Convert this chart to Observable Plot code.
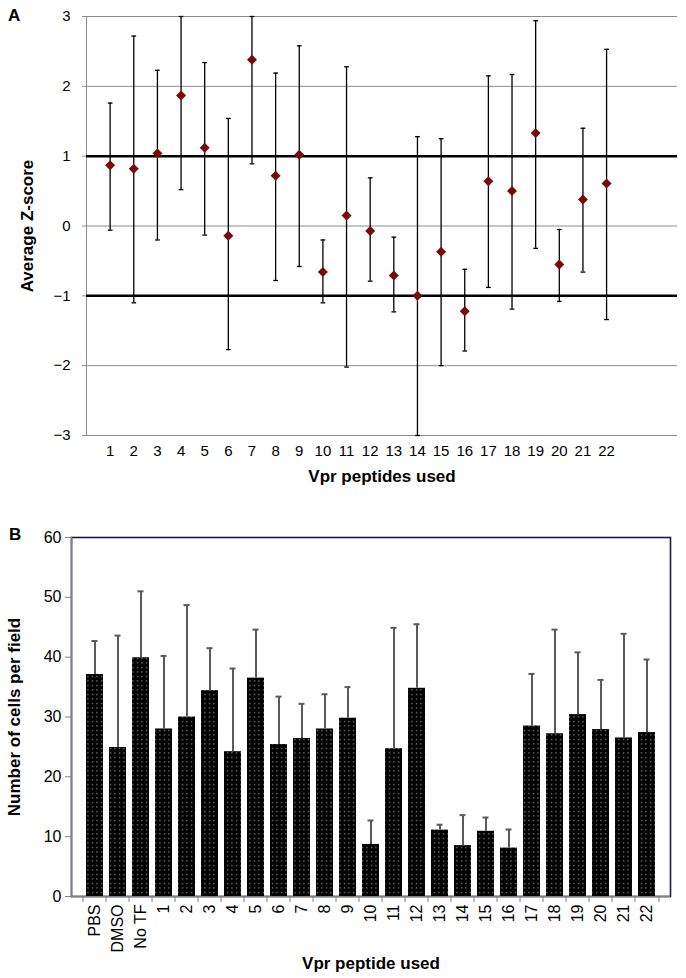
<!DOCTYPE html>
<html><head><meta charset="utf-8">
<script src="https://cdn.jsdelivr.net/npm/d3@7"></script>
<script src="https://cdn.jsdelivr.net/npm/@observablehq/plot@0.6"></script>
<style>
body{margin:0;background:#fff;font-family:"Liberation Sans",Arial,sans-serif;}
#wrap{position:relative;width:686px;height:978px;overflow:hidden;}
.panel{position:absolute;font-weight:bold;font-size:17px;line-height:20px;color:#000;}
svg{display:block}
</style></head><body>
<div id="wrap">
<div id="a"></div>
<div id="b"></div>
<div class="panel" style="top:6px;left:8px">A</div>
<div class="panel" style="top:525px;left:9px">B</div>
</div>
<script>
// Panel A: average Z-score per Vpr peptide
const peptides = [1,2,3,4,5,6,7,8,9,10,11,12,13,14,15,16,17,18,19,20,21,22];
const zMean  = [0.87,0.82,1.04,1.87,1.12,-0.14,2.38,0.72,1.02,-0.66,0.15,-0.07,-0.71,-1.00,-0.37,-1.22,0.64,0.50,1.33,-0.55,0.38,0.61];
const zUpper = [1.76,2.72,2.23,3.00,2.34,1.54,3.00,2.19,2.58,-0.20,2.28,0.69,-0.16,1.28,1.25,-0.62,2.15,2.17,2.94,-0.05,1.40,2.53];
const zLower = [-0.06,-1.10,-0.20,0.52,-0.13,-1.77,0.89,-0.78,-0.58,-1.10,-2.02,-0.79,-1.23,-3.00,-2.00,-1.79,-0.88,-1.19,-0.32,-1.08,-0.66,-1.34];
const zTicks = [-3,-2,-1,0,1,2,3];
const zThresholds = [1,-1];

// Panel B: number of cells per field
const cellCategories = ["PBS","DMSO","No TF","1","2","3","4","5","6","7","8","9","10","11","12","13","14","15","16","17","18","19","20","21","22"];
const cellValues = [37.1,24.9,39.9,28.0,30.0,34.4,24.2,36.5,25.4,26.4,28.0,29.8,8.7,24.7,34.8,11.1,8.5,10.9,8.1,28.5,27.2,30.4,27.9,26.5,27.4];
const cellUpper  = [42.7,43.6,51.0,40.2,48.7,41.5,38.1,44.6,33.4,32.2,33.8,35.0,12.7,44.9,45.5,12.0,13.6,13.2,11.2,37.2,44.6,40.8,36.2,43.9,39.6];
const cellTicks = [0,10,20,30,40,50,60];

const font = "'Liberation Sans', Arial, Helvetica, sans-serif";
const intFmt = d => d < 0 ? "\u2212" + (-d) : String(d);

const aData = peptides.map((p,i)=>({p, mean:zMean[i], hi:zUpper[i], lo:zLower[i]}));
const chartA = Plot.plot({
  width:686, height:485, marginLeft:86, marginRight:9, marginTop:16, marginBottom:50,
  style:{fontFamily:font, fontSize:"15px", color:"#000", background:"#fff", overflow:"visible"},
  x:{domain:[0,25]},
  y:{domain:[-3,3]},
  marks:[
    Plot.gridY(zTicks, {stroke:"#8c8c8c", strokeOpacity:1, strokeWidth:1}),
    Plot.ruleX([0], {stroke:"#8c8c8c", strokeWidth:1}),
    Plot.ruleY(zThresholds, {stroke:"#000", strokeWidth:2.5}),
    Plot.ruleX(aData, {x:"p", y1:"lo", y2:"hi", stroke:"#000", strokeWidth:1.3}),
    Plot.link(aData, {x1:d=>d.p-0.1, x2:d=>d.p+0.1, y1:"hi", y2:"hi", stroke:"#000", strokeWidth:1.3}),
    Plot.link(aData, {x1:d=>d.p-0.1, x2:d=>d.p+0.1, y1:"lo", y2:"lo", stroke:"#000", strokeWidth:1.3}),
    Plot.dot(aData, {x:"p", y:"mean", symbol:"diamond2", r:4.5, fill:"#7a0a0a", stroke:"none"}),
    Plot.axisY({ticks:zTicks, tickFormat:intFmt, tickSize:4, tickPadding:12, stroke:"#8c8c8c", label:"Average Z-score", labelAnchor:"center", labelOffset:66, labelArrow:"none"}),
    Plot.axisX({ticks:peptides, tickSize:0, tickPadding:10, label:"Vpr peptides used", labelAnchor:"center", labelOffset:46, labelArrow:"none"})
  ]
});

const bData = cellCategories.map((c,i)=>({c, v:cellValues[i], hi:cellUpper[i]}));
const half = 599/25/2;
const chartB = Plot.plot({
  width:686, height:493, marginLeft:71, marginRight:16, marginTop:52, marginBottom:82,
  style:{fontFamily:font, fontSize:"16px", color:"#000", background:"#fff", overflow:"visible"},
  x:{domain:cellCategories, paddingInner:0.25, paddingOuter:0.125},
  y:{domain:[0,60]},
  marks:[
    Plot.frame({stroke:"#1b1b4d", strokeWidth:1.6}),
    Plot.frame({anchor:"left", stroke:"#808080", strokeWidth:1.6}),
    Plot.ruleY([0], {stroke:"#808080", strokeWidth:1.6}),
    Plot.barY(bData, {x:"c", y:"v", fill:"url(#dots)"}),
    Plot.ruleX(bData, {x:"c", y1:"v", y2:"hi", stroke:"#5a5a5a", strokeWidth:2}),
    Plot.tickY(bData, {x:"c", y:"hi", stroke:"#5a5a5a", strokeWidth:2, inset:5.5}),
    Plot.axisY({ticks:cellTicks, tickSize:6, tickPadding:4, stroke:"#808080", label:"Number of cells per field", labelAnchor:"center", labelOffset:64, labelArrow:"none"}),
    Plot.axisX({tickRotate:-90, tickSize:0, tickPadding:8, label:"Vpr peptide used", labelAnchor:"center", labelOffset:72, labelArrow:"none"}),
    Plot.axisX({tickSize:6, fill:"none", label:null, dx:-half, stroke:"#808080"}),
    Plot.axisX({ticks:["22"], tickSize:6, fill:"none", label:null, dx:half, stroke:"#808080"})
  ]
});

document.getElementById("a").appendChild(chartA);
document.getElementById("b").appendChild(chartB);

// dotted fill pattern for bars
const svgB = d3.select(chartB);
const defs = svgB.insert("defs", ":first-child");
const pat = defs.append("pattern").attr("id","dots").attr("patternUnits","userSpaceOnUse")
  .attr("width",4.5).attr("height",4.5);
pat.append("rect").attr("width",4.5).attr("height",4.5).attr("fill","#000");
pat.append("rect").attr("x",2).attr("y",2).attr("width",1).attr("height",1).attr("fill","#e0e0e0");

for (const c of [chartA, chartB]) {
  d3.select(c).selectAll('g[aria-label="y-axis label"], g[aria-label="x-axis label"]')
    .attr("font-weight","bold").attr("font-size",17);
}
</script>
</body></html>
